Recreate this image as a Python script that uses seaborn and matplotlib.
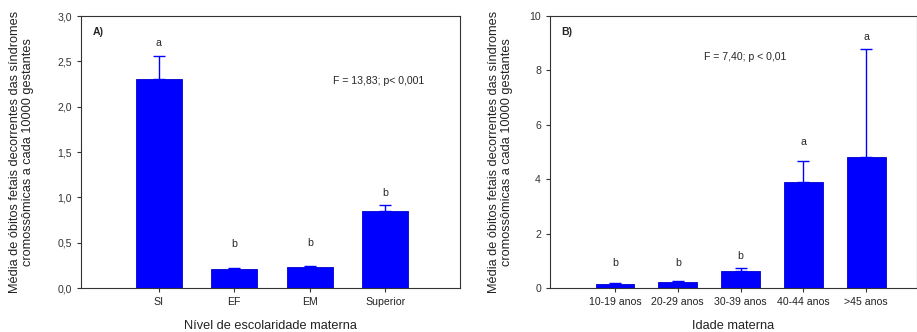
import pandas as pd
import matplotlib
matplotlib.use('Agg')
import matplotlib.pyplot as plt
import seaborn as sns

# Panel A - maternal schooling
escolaridade = ['SI', 'EF', 'EM', 'Superior']
media_esc = [2.30, 0.215, 0.235, 0.845]
erro_esc = [0.26, 0.005, 0.012, 0.07]
letras_esc = ['a', 'b', 'b', 'b']
altura_letras_esc = [2.65, 0.43, 0.44, 0.99]

# Panel B - maternal age
idade = ['10-19 anos', '20-29 anos', '30-39 anos', '40-44 anos', '>45 anos']
media_idade = [0.16, 0.21, 0.625, 3.91, 4.80]
erro_idade = [0.04, 0.05, 0.12, 0.77, 4.00]
letras_idade = ['b', 'b', 'b', 'a', 'a']
altura_letras_idade = [0.74, 0.74, 1.01, 5.18, 9.06]

sns.set_theme(style='ticks')
plt.rcParams['font.family'] = ['Liberation Sans', 'DejaVu Sans']

azul = '#0000ff'
ylabel = 'Média de óbitos fetais decorrentes das síndromes\ncromossômicas a cada 10000 gestantes'

fig = plt.figure(figsize=(9.17, 3.32), dpi=100)
ax1 = fig.add_axes([0.0883, 0.1325, 0.4133, 0.8193])
ax2 = fig.add_axes([0.5998, 0.1325, 0.4002, 0.8193])


def painel(ax, cats, medias, erros, letras, alturas, ymax, yticks, yfmt, xlim, bw, pad):
    df = pd.DataFrame({'cat': cats, 'media': medias})
    sns.barplot(data=df, x='cat', y='media', color=azul, saturation=1,
                width=bw, errorbar=None, edgecolor='#0000cc', linewidth=0.6, ax=ax)
    ax.errorbar(range(len(cats)), medias, yerr=[[0] * len(cats), erros],
                fmt='none', ecolor=azul, elinewidth=1, capsize=4, capthick=1)
    for i, (h, l) in enumerate(zip(alturas, letras)):
        ax.text(i, h, l, ha='center', va='bottom', fontsize=7.6)
    ax.set_ylim(0, ymax)
    ax.set_xlim(*xlim)
    ax.set_yticks(yticks)
    ax.set_yticklabels([yfmt(v) for v in yticks])
    ax.tick_params(labelsize=7.6, length=3, width=0.8, colors='#333333')
    ax.tick_params(axis='x', labelcolor='#222222')
    for s in ax.spines.values():
        s.set_linewidth(0.8)
        s.set_color('#333333')
    ax.set_ylabel(ylabel, fontsize=9.2, color='#222222', labelpad=pad, linespacing=1.05)


painel(ax1, escolaridade, media_esc, erro_esc, letras_esc, altura_letras_esc, 3.0,
       [0, 0.5, 1.0, 1.5, 2.0, 2.5, 3.0], lambda v: f'{v:.1f}'.replace('.', ','),
       (-1.03, 3.99), 0.61, 17)
ax1.set_xlabel('Nível de escolaridade materna', fontsize=9.2, color='#222222', labelpad=9)
ax1.text(0.03, 0.94, 'A)', transform=ax1.transAxes, fontsize=7.6, fontweight='bold', va='center')
ax1.text(0.665, 0.762, 'F = 13,83; p< 0,001', transform=ax1.transAxes, fontsize=7.6, va='center')

painel(ax2, idade, media_idade, erro_idade, letras_idade, altura_letras_idade, 10,
       [0, 2, 4, 6, 8, 10], lambda v: f'{v:d}',
       (-1.035, 4.81), 0.62, 12)
ax2.set_xlabel('Idade materna', fontsize=9.2, color='#222222', labelpad=9)
ax2.text(0.03, 0.94, 'B)', transform=ax2.transAxes, fontsize=7.6, fontweight='bold', va='center')
ax2.text(0.42, 0.85, 'F = 7,40; p < 0,01', transform=ax2.transAxes, fontsize=7.6, va='center')

fig.savefig('out.png', dpi=100)
